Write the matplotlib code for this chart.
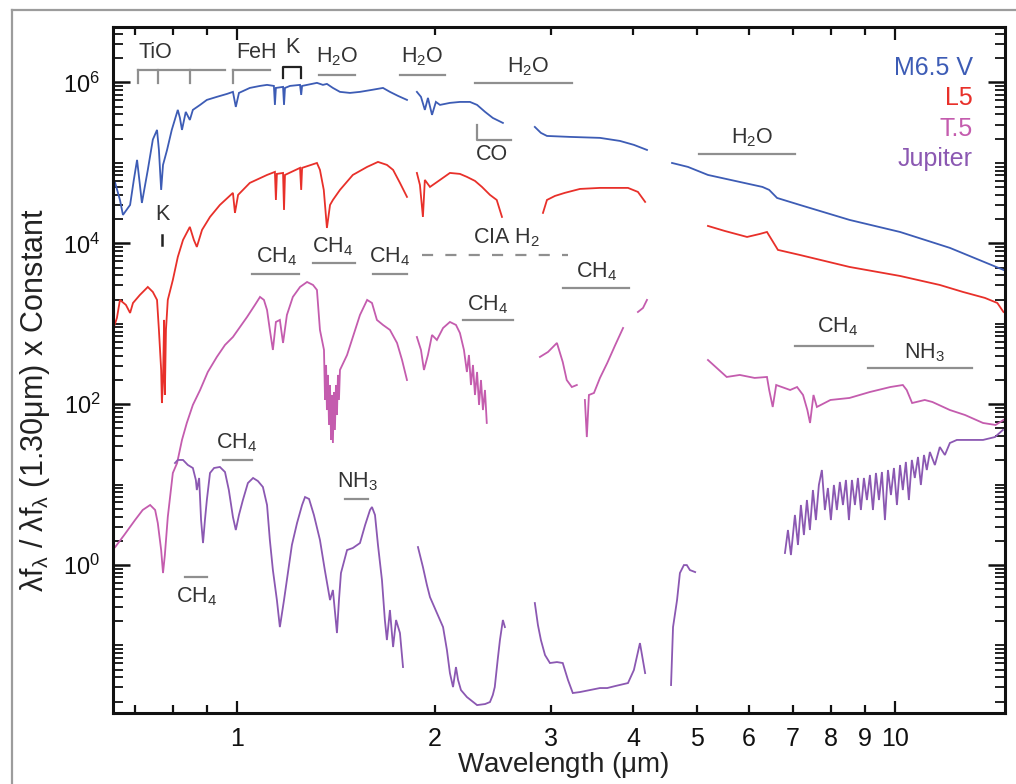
import matplotlib

matplotlib.use("Agg")
import matplotlib.pyplot as plt
import numpy as np
from matplotlib.lines import Line2D
from matplotlib.ticker import FixedLocator, FuncFormatter, LogLocator, NullFormatter

nan = np.nan

# Spectra: wavelength (micron) and log10 of normalised flux; nan marks a gap
m65_wave = [0.653, 0.664, 0.671, 0.688, 0.697, 0.705, 0.712, 0.717, 0.732, 0.745, 0.756, 0.761,
            0.767, 0.772, 0.783, 0.796, 0.813, 0.819, 0.825, 0.836, 0.848, 0.857, 0.879, 0.900,
            0.932, 0.966, 0.986, 0.996, 1.007, 1.046, 1.084, 1.111, 1.138, 1.142, 1.146, 1.175,
            1.179, 1.183, 1.204, 1.247, 1.252, 1.256, 1.323, 1.351, 1.370, 1.399, 1.434, 1.485,
            1.538, 1.604, 1.667, 1.708, 1.757, 1.813, nan,
            1.877, 1.904, 1.930, 1.951, 1.979, 2.006, 2.035, 2.107, 2.182, 2.260, 2.317, 2.383,
            2.448, 2.536, nan,
            2.836, 2.897, 2.959, 3.207, 3.562, 3.820, 4.011, 4.199, nan,
            4.584, 4.846, 5.198, 5.81, 6.29, 6.44, 6.62, 7.17, 8.53, 10.18, 12.12, 14.62]
m65_logf = [4.751, 4.539, 4.353, 4.477, 4.788, 5.037, 4.726, 4.502, 4.913, 5.290, 5.410, 5.161,
            4.664, 4.975, 5.161, 5.410, 5.659, 5.560, 5.410, 5.634, 5.534, 5.659, 5.721, 5.783,
            5.821, 5.858, 5.883, 5.696, 5.870, 5.932, 5.957, 5.970, 5.957, 5.721, 5.932, 5.945,
            5.721, 5.932, 5.957, 5.970, 5.845, 5.957, 5.995, 5.970, 5.982, 5.932, 5.883, 5.870,
            5.883, 5.908, 5.932, 5.883, 5.833, 5.783, nan,
            5.883, 5.821, 5.659, 5.808, 5.597, 5.758, 5.721, 5.746, 5.758, 5.758, 5.721, 5.634,
            5.559, 5.497, nan,
            5.447, 5.373, 5.335, 5.323, 5.311, 5.273, 5.224, 5.161, nan,
            4.999, 4.950, 4.850, 4.763, 4.701, 4.664, 4.564, 4.477, 4.291, 4.141, 3.943, 3.669]

l5_wave = [0.648, 0.657, 0.664, 0.678, 0.688, 0.695, 0.712, 0.732, 0.745, 0.756, 0.761, 0.767,
           0.769, 0.772, 0.775, 0.777, 0.780, 0.785, 0.799, 0.813, 0.828, 0.848, 0.860, 0.869,
           0.885, 0.910, 0.942, 0.986, 0.993, 1.004, 1.046, 1.111, 1.142, 1.146, 1.150, 1.175,
           1.179, 1.183, 1.247, 1.252, 1.256, 1.323, 1.337, 1.355, 1.370, 1.385, 1.399, 1.434,
           1.500, 1.577, 1.638, 1.690, 1.727, 1.769, 1.813, nan,
           1.877, 1.897, 1.917, 1.930, 1.965, 2.035, 2.107, 2.182, 2.236, 2.300, 2.357, 2.424,
           2.482, 2.528, nan,
           2.918, 2.959, 3.043, 3.149, 3.321, 3.562, 3.929, 4.068, 4.172, nan,
           5.198, 5.51, 5.96, 6.23, 6.39, 6.50, 6.64, 7.17, 8.53, 10.18, 11.70, 12.69, 13.70,
           14.31, 14.62]
l5_logf = [2.923, 3.072, 3.296, 3.234, 3.134, 3.258, 3.358, 3.457, 3.395, 3.296, 2.923, 2.425,
           2.014, 2.300, 3.047, 2.114, 2.923, 3.296, 3.544, 3.830, 4.042, 4.204, 4.042, 3.955,
           4.167, 4.328, 4.477, 4.627, 4.378, 4.602, 4.751, 4.850, 4.888, 4.539, 4.863, 4.875,
           4.415, 4.850, 4.938, 4.664, 4.938, 4.999, 4.913, 4.664, 4.191, 4.477, 4.539, 4.664,
           4.850, 4.950, 5.012, 4.975, 4.913, 4.751, 4.577, nan,
           4.875, 4.726, 4.328, 4.788, 4.701, 4.788, 4.875, 4.863, 4.826, 4.776, 4.701, 4.602,
           4.539, 4.328, nan,
           4.378, 4.539, 4.589, 4.627, 4.676, 4.689, 4.689, 4.639, 4.515, nan,
           4.216, 4.154, 4.079, 4.116, 4.141, 4.042, 3.918, 3.855, 3.706, 3.594, 3.482, 3.395,
           3.321, 3.258, 3.146]

t5_wave = [0.653, 0.674, 0.700, 0.719, 0.738, 0.751, 0.758, 0.767, 0.772, 0.777, 0.785, 0.799,
           0.811, 0.825, 0.839, 0.857, 0.879, 0.903, 0.932, 0.959, 0.986, 1.011, 1.036, 1.065,
           1.084, 1.099, 1.111, 1.122, 1.134, 1.146, 1.162, 1.175, 1.191, 1.216, 1.247, 1.278,
           1.305, 1.323, 1.337, 1.356, 1.361, 1.366, 1.370, 1.375, 1.380, 1.385, 1.390, 1.394,
           1.399, 1.404, 1.409, 1.414, 1.419, 1.424, 1.429, 1.434, 1.470, 1.500,
           1.538, 1.577, 1.604, 1.632, 1.667, 1.708, 1.751, 1.782, 1.813, nan,
           1.877, 1.904, 1.924, 1.951, 1.979, 2.013, 2.057, 2.107, 2.152, 2.182, 2.213, 2.236,
           2.252, 2.268, 2.284, 2.300, 2.317, 2.333, 2.349, 2.365, 2.382, 2.397, nan,
           2.887, 2.970, 3.064, 3.127, 3.171, 3.228, 3.285, nan,
           3.379, 3.402, 3.427, 3.488, 3.562, 3.654, 3.758, 3.862, nan,
           4.068, 4.141, 4.199, nan,
           5.198, 5.55, 5.81, 6.12, 6.39, 6.44, 6.52, 6.60, 6.93, 7.10, 7.25, 7.36, 7.43, 7.52,
           7.61, 7.98, 8.53, 9.16, 9.84, 10.28, 10.42, 10.62, 11.1, 11.4, 12.12, 12.78, 13.61,
           14.22, 14.62]
t5_logf = [0.223, 0.373, 0.559, 0.684, 0.746, 0.684, 0.522, 0.186, -0.100, 0.124, 0.597, 1.144,
           1.268, 1.555, 1.766, 1.990, 2.176, 2.400, 2.587, 2.736, 2.835, 2.960, 3.084, 3.234,
           3.333, 3.296, 3.171, 2.923, 2.674, 3.022, 3.047, 2.761, 3.109, 3.333, 3.457, 3.519,
           3.482, 3.420, 2.923, 2.674, 2.052, 2.487, 1.927, 2.363, 1.741, 2.238, 1.555, 2.114,
           1.517, 2.151, 1.679, 2.238, 1.865, 2.363, 2.052, 2.425, 2.611, 2.835,
           3.109, 3.296, 3.258, 3.047, 2.985, 2.923, 2.761, 2.549, 2.300, nan,
           2.835, 2.674, 2.425, 2.611, 2.860, 2.798, 2.947, 3.022, 2.985, 2.885, 2.674, 2.400,
           2.611, 2.238, 2.487, 2.114, 2.400, 1.990, 2.300, 1.927, 2.176, 1.766, nan,
           2.587, 2.649, 2.761, 2.524, 2.300, 2.213, 2.238, nan,
           2.052, 1.591, 2.114, 2.139, 2.326, 2.512, 2.736, 2.947, nan,
           3.146, 3.196, 3.296, nan,
           2.549, 2.338, 2.363, 2.326, 2.338, 2.176, 1.965, 2.238, 2.176, 2.213, 2.114, 1.927,
           1.766, 2.114, 1.965, 2.052, 2.077, 2.151, 2.213, 2.238, 2.176, 2.014, 2.052, 2.027,
           1.927, 1.865, 1.766, 1.741, 1.803]

jup_wave = [0.805, 0.813, 0.828, 0.842, 0.857, 0.866, 0.869, 0.876, 0.882, 0.888, 0.894, 0.900,
            0.910, 0.923, 0.942, 0.959, 0.972, 0.986, 0.996, 1.007, 1.021, 1.039, 1.058, 1.076,
            1.095, 1.111, 1.122, 1.134, 1.150, 1.162, 1.179, 1.191, 1.212, 1.234, 1.256, 1.269,
            1.287, 1.309, 1.337, 1.360, 1.385, 1.399, 1.419, 1.429, 1.439, 1.470, 1.500, 1.538,
            1.566, 1.593, 1.604, 1.621, 1.638, 1.661, 1.678, 1.690, 1.708, 1.727, 1.745, 1.769,
            1.788, nan,
            1.884, 1.917, 1.944, 1.965, 2.013, 2.057, 2.085, 2.107, 2.130, 2.152, 2.168, 2.190,
            2.236, 2.317, 2.383, 2.424, 2.448, 2.465, 2.490, 2.510, 2.536, 2.554, nan,
            2.836, 2.867, 2.897, 2.939, 2.990, 3.064, 3.127, 3.185, 3.239, 3.321, 3.439, 3.562,
            3.654, 3.758, 3.929, 4.011, 4.097, 4.172, nan,
            4.568, 4.600, 4.665, 4.712, 4.778, 4.827, 4.880, 4.970, nan,
            6.805, 6.877, 6.949, 7.047, 7.122, 7.196, 7.272, 7.349, 7.426, 7.505, 7.584, 7.663,
            7.744, 7.826, 7.909, 7.992, 8.077, 8.161, 8.247, 8.337, 8.424, 8.513, 8.603, 8.693,
            8.785, 8.877, 8.971, 9.066, 9.162, 9.259, 9.357, 9.456, 9.555, 9.656, 9.759, 9.861,
            9.965, 10.07, 10.18, 10.28, 10.39, 10.50, 10.61, 10.72, 10.84, 10.95, 11.07, 11.18,
            11.30, 11.50, 11.70, 11.91, 12.12, 12.42, 13.00, 13.61, 14.19, 14.59]
jup_logf = [1.268, 1.306, 1.306, 1.244, 1.206, 1.057, 0.932, 1.082, 0.559, 0.273, 0.559, 0.808,
            1.144, 1.206, 1.219, 1.156, 0.932, 0.597, 0.435, 0.622, 0.808, 1.019, 1.082, 1.044,
            0.970, 0.746, 0.311, -0.063, -0.436, -0.772, -0.436, -0.187, 0.249, 0.522, 0.746,
            0.845, 0.821, 0.622, 0.311, -0.063, -0.436, -0.311, -0.846, -0.436, -0.100, 0.186,
            0.211, 0.273, 0.497, 0.684, 0.721, 0.622, 0.249, -0.187, -0.684, -0.933, -0.560,
            -1.020, -0.684, -0.846, -1.269, nan,
            0.223, -0.025, -0.249, -0.399, -0.597, -0.772, -1.057, -1.344, -1.518, -1.269, -1.430,
            -1.555, -1.642, -1.742, -1.729, -1.704, -1.617, -1.518, -1.183, -0.933, -0.684, -0.772,
            nan,
            -0.473, -0.747, -0.933, -1.120, -1.219, -1.207, -1.219, -1.430, -1.592, -1.580, -1.555,
            -1.530, -1.530, -1.505, -1.468, -1.306, -0.971, -1.344, nan,
            -1.493, -0.772, -0.436, -0.100, -0.001, -0.001, -0.063, -0.088, nan,
            0.149, 0.435, 0.124, 0.622, 0.249, 0.746, 0.373, 0.808, 0.435, 0.932, 0.559, 0.995,
            1.181, 0.684, 0.957, 0.559, 0.995, 0.684, 1.032, 0.746, 1.057, 0.559, 1.057, 0.746,
            1.082, 0.684, 1.082, 0.808, 1.119, 0.684, 1.144, 0.808, 1.156, 0.559, 1.181, 0.870,
            1.206, 0.746, 1.243, 0.932, 1.281, 0.808, 1.306, 1.082, 1.343, 0.995, 1.368, 1.181,
            1.405, 1.243, 1.467, 1.368, 1.517, 1.555, 1.555, 1.555, 1.591, 1.679]

names = ["M6.5 V", "L5", "T.5", "Jupiter"]
colors = ["#3d5cb5", "#e8302a", "#c45cae", "#8b58b2"]
spectra = [(m65_wave, m65_logf), (l5_wave, l5_logf), (t5_wave, t5_logf), (jup_wave, jup_logf)]

# absorption band labels: text, x, y (data coords)
band_text = [
    ("TiO", 0.751, 2.33e6), ("FeH", 1.069, 2.33e6), ("K", 1.212, 2.69e6),
    ("H$_2$O", 1.419, 2.08e6), ("H$_2$O", 1.911, 2.08e6), ("H$_2$O", 2.77, 1.56e6),
    ("CO", 2.44, 1.26e5), ("K", 0.769, 2.25e4), ("H$_2$O", 6.06, 2.05e5),
    ("CH$_4$", 1.150, 6.76e3), ("CH$_4$", 1.399, 9.0e3), ("CH$_4$", 1.708, 6.76e3),
    ("CIA H$_2$", 2.572, 1.17e4), ("CH$_4$", 3.523, 4.41e3), ("CH$_4$", 2.404, 1.71e3),
    ("CH$_4$", 8.17, 912), ("NH$_3$", 11.1, 434), ("CH$_4$", 1.0, 32.9),
    ("NH$_3$", 1.522, 10.8), ("CH$_4$", 0.869, 0.40),
]
# horizontal band bars: x0, x1, y
band_bars = [
    (1.332, 1.511, 1.24e6), (1.769, 2.071, 1.24e6), (2.300, 3.229, 9.9e5),
    (5.04, 7.06, 1.29e5), (1.054, 1.242, 4.16e3), (1.305, 1.511, 5.70e3),
    (1.609, 1.813, 4.16e3), (3.127, 3.94, 2.79e3), (2.205, 2.625, 1.11e3),
    (7.05, 9.26, 530), (9.1, 13.1, 282), (0.952, 1.054, 20.2),
    (1.459, 1.582, 6.62), (0.834, 0.900, 0.708),
]

plt.rcParams["font.family"] = ["Liberation Sans", "DejaVu Sans"]
plt.rcParams["mathtext.fontset"] = "custom"
plt.rcParams["mathtext.rm"] = "Liberation Sans"
plt.rcParams["mathtext.it"] = "Liberation Sans"
plt.rcParams["mathtext.bf"] = "Liberation Sans:bold"

fig = plt.figure(figsize=(10.16, 7.84), dpi=100)
ax = fig.add_axes([0.1112, 0.0906, 0.878, 0.875])

for (wave, logf), c in zip(spectra, colors):
    ax.plot(wave, 10 ** np.array(logf), color=c, lw=1.3, solid_joinstyle="miter")

ax.set_xscale("log")
ax.set_yscale("log")
ax.set_xlim(0.648, 14.7)
ax.set_ylim(10 ** -1.84, 10 ** 6.69)

# x ticks: 1 and 10 long, the rest short
ax.xaxis.set_major_locator(FixedLocator([1, 10]))
ax.xaxis.set_minor_locator(FixedLocator([0.7, 0.8, 0.9, 2, 3, 4, 5, 6, 7, 8, 9]))
ax.xaxis.set_major_formatter(FuncFormatter(lambda v, p: f"{v:g}"))
ax.xaxis.set_minor_formatter(FuncFormatter(lambda v, p: f"{v:g}" if v >= 2 else ""))
ax.yaxis.set_major_locator(FixedLocator([1, 1e2, 1e4, 1e6]))
ax.yaxis.set_minor_locator(LogLocator(base=10, subs=np.arange(1, 10), numticks=30))
ax.yaxis.set_minor_formatter(NullFormatter())

ax.tick_params(which="both", direction="in", top=True, right=True, colors="#111111")
ax.tick_params(axis="x", which="major", length=9, width=1.6, pad=10, labelsize=18)
ax.tick_params(axis="x", which="minor", length=6, width=1.6, pad=10, labelsize=18)
ax.tick_params(axis="y", which="major", length=12, width=1.8, pad=9, labelsize=17)
ax.tick_params(axis="y", which="minor", length=7, width=1.3)
for s in ax.spines.values():
    s.set_linewidth(2.2)
    s.set_color("#111111")

gray = "#8f8f8f"
txt = "#333333"
for x0, x1, y in band_bars:
    ax.plot([x0, x1], [y, y], color=gray, lw=1.6)

# TiO and FeH brackets
ax.plot([0.707, 0.959], [1.43e6, 1.43e6], color=gray, lw=1.6)
for xt in [0.707, 0.758, 0.848]:
    ax.plot([xt, xt], [1.43e6, 9.9e5], color=gray, lw=1.6)
ax.plot([0.986, 1.122], [1.43e6, 1.43e6], color=gray, lw=1.6)
ax.plot([0.986, 0.986], [1.43e6, 9.9e5], color=gray, lw=1.6)
# K doublet bracket
ax.plot([1.175, 1.175, 1.250, 1.250], [1.14e6, 1.56e6, 1.56e6, 1.14e6], color="#222222", lw=1.6)
# CO bandhead
ax.plot([2.317, 2.317, 2.606], [2.96e5, 1.93e5, 1.93e5], color=gray, lw=1.6)
# K line in the L dwarf
ax.plot([0.769, 0.769], [1.27e4, 9.55e3], color="#222222", lw=1.8)
# collision induced H2
ax.plot([1.911, 3.185], [7.16e3, 7.16e3], color=gray, lw=1.6, dashes=(5, 5.5))

for label, x, y in band_text:
    ax.text(x, y, label, ha="center", va="center", fontsize=15.5, color=txt)

for i, (name, c) in enumerate(zip(names, colors)):
    ax.text(0.964, 0.930 - i * 0.0443, name, transform=ax.transAxes, ha="right",
            va="baseline", fontsize=18, color=c)

fig.text(563 / 1016, 1 - 765 / 784, "Wavelength ($\\mu$m)", ha="center", va="center",
         fontsize=20, color="#222222")
fig.text(35 / 1016, 1 - 400 / 784,
         "$\\lambda$f$_\\lambda$ / $\\lambda$f$_\\lambda$ (1.30$\\mu$m) x Constant",
         rotation=90, ha="center", va="center", fontsize=22, color="#222222")

# outer panel frame
fig.add_artist(Line2D([12 / 1016, 12 / 1016], [0, 1 - 10 / 784], color="#9c9c9c", lw=1.6))
fig.add_artist(Line2D([12 / 1016, 1], [1 - 10 / 784, 1 - 10 / 784], color="#9c9c9c", lw=1.6))

fig.savefig("out.png", dpi=100)
